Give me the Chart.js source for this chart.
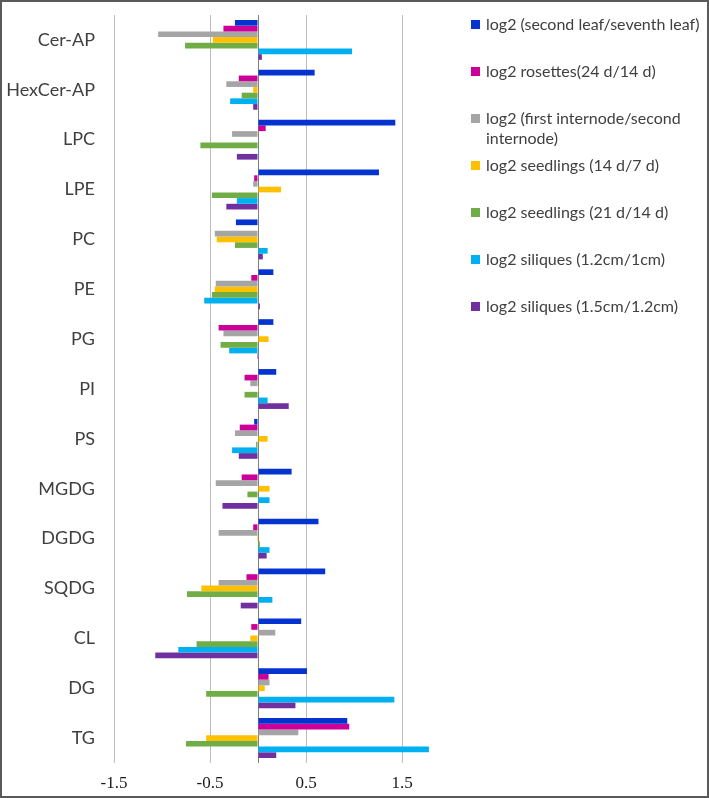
<!DOCTYPE html>
<html>
<head>
<meta charset="utf-8">
<script src="https://cdn.jsdelivr.net/npm/chart.js@4"></script>
<style>
  body { margin: 0; background: #fff; }
  #wrap { position: relative; width: 709px; height: 798px; }
  #frame { position: absolute; left: 0; top: 0; width: 709px; height: 798px; box-sizing: border-box; border: 2px solid #5a5a5a; pointer-events: none; }
  #legend { position: absolute; left: 471px; top: 14px; font-family: Lato, "Noto Sans", sans-serif; font-size: 16px; color: #404040; }
  .item { position: relative; height: 47px; }
  .box { position: absolute; left: 0; top: 6px; width: 9px; height: 9px; }
  .txt { position: absolute; left: 15px; top: 0; width: 220px; line-height: 20px; }
</style>
</head>
<body>
<div id="wrap">
  <canvas id="chart" width="709" height="798"></canvas>
  <div id="legend"></div>
  <div id="frame"></div>
</div>
<script>
// categories (top to bottom)
const lipids = ['Cer-AP', 'HexCer-AP', 'LPC', 'LPE', 'PC', 'PE', 'PG', 'PI', 'PS', 'MGDG', 'DGDG', 'SQDG', 'CL', 'DG', 'TG'];

const seriesNames = [
  'log2 (second leaf/seventh leaf)',
  'log2 rosettes(24 d/14 d)',
  'log2 (first internode/second internode)',
  'log2 seedlings (14 d/7 d)',
  'log2 seedlings (21 d/14 d)',
  'log2 siliques (1.2cm/1cm)',
  'log2 siliques (1.5cm/1.2cm)'
];
const seriesColors = ['#0433d0', '#cc0099', '#a5a5a5', '#ffc000', '#70ad47', '#00b0f0', '#7030a0'];

// values, one array per series
const secondLeaf   = [-0.24, 0.59, 1.43, 1.26, -0.23, 0.16, 0.16, 0.19, -0.04, 0.35, 0.63, 0.70, 0.45, 0.51, 0.93];
const rosettes     = [-0.36, -0.20, 0.08, -0.04, 0, -0.07, -0.41, -0.14, -0.19, -0.17, -0.05, -0.12, -0.07, 0.11, 0.95];
const internode    = [-1.04, -0.33, -0.27, -0.05, -0.45, -0.44, -0.36, -0.08, -0.24, -0.44, -0.41, -0.41, 0.18, 0.12, 0.42];
const seedlings14  = [-0.47, -0.05, 0, 0.24, -0.43, -0.45, 0.11, 0.01, 0.10, 0.12, -0.01, -0.59, -0.08, 0.07, -0.54];
const seedlings21  = [-0.76, -0.17, -0.60, -0.48, -0.24, -0.48, -0.39, -0.14, -0.02, -0.11, 0.02, -0.74, -0.64, -0.54, -0.75];
const siliques12   = [0.98, -0.29, 0.01, -0.22, 0.10, -0.56, -0.30, 0.10, -0.27, 0.12, 0.12, 0.15, -0.83, 1.42, 1.78];
const siliques15   = [0.04, -0.05, -0.22, -0.33, 0.05, 0.02, -0.01, 0.32, -0.20, -0.37, 0.09, -0.18, -1.07, 0.39, 0.19];

const seriesValues = [secondLeaf, rosettes, internode, seedlings14, seedlings21, siliques12, siliques15];

// x axis
const xMin = -1.5;
const xMax = 2;
const xTicks = [-1.5, -0.5, 0, 0.5, 1.5];

const datasets = seriesNames.map((name, i) => ({
  label: name,
  data: seriesValues[i],
  backgroundColor: seriesColors[i],
  borderWidth: 0,
  categoryPercentage: 0.8,
  barPercentage: 1.0
}));

new Chart(document.getElementById('chart'), {
  type: 'bar',
  data: { labels: lipids, datasets: datasets },
  options: {
    indexAxis: 'y',
    responsive: false,
    animation: false,
    devicePixelRatio: 1,
    layout: { padding: { top: 15, right: 259, bottom: 0, left: 0 } },
    plugins: { legend: { display: false }, tooltip: { enabled: false } },
    scales: {
      x: {
        type: 'linear',
        min: xMin,
        max: xMax,
        afterBuildTicks: (scale) => { scale.ticks = xTicks.map(v => ({ value: v })); },
        afterFit: (scale) => { scale.height = 35; scale.paddingLeft = 0; scale.paddingRight = 0; },
        border: { display: false },
        grid: {
          drawTicks: false,
          color: (ctx) => ctx.tick && ctx.tick.value === 0 ? '#7f7f7f' : '#bcbcbc',
          lineWidth: 1
        },
        ticks: {
          padding: 10,
          color: '#1a1a1a',
          font: { family: '"Liberation Serif", "Times New Roman", serif', size: 17 },
          callback: (v) => v === 0 ? '' : String(v)
        }
      },
      y: {
        afterFit: (scale) => { scale.width = 114; scale.paddingTop = 0; scale.paddingBottom = 0; },
        border: { display: false },
        grid: { display: false, drawTicks: false },
        ticks: {
          padding: 19,
          color: '#404040',
          font: { family: 'Lato, "Noto Sans", sans-serif', size: 18 }
        }
      }
    }
  }
});

// legend at right, built from the same series arrays
const legend = document.getElementById('legend');
seriesNames.forEach((name, i) => {
  const item = document.createElement('div');
  item.className = 'item';
  const box = document.createElement('div');
  box.className = 'box';
  box.style.background = seriesColors[i];
  const txt = document.createElement('div');
  txt.className = 'txt';
  txt.textContent = name;
  item.appendChild(box);
  item.appendChild(txt);
  legend.appendChild(item);
});
</script>
</body>
</html>
